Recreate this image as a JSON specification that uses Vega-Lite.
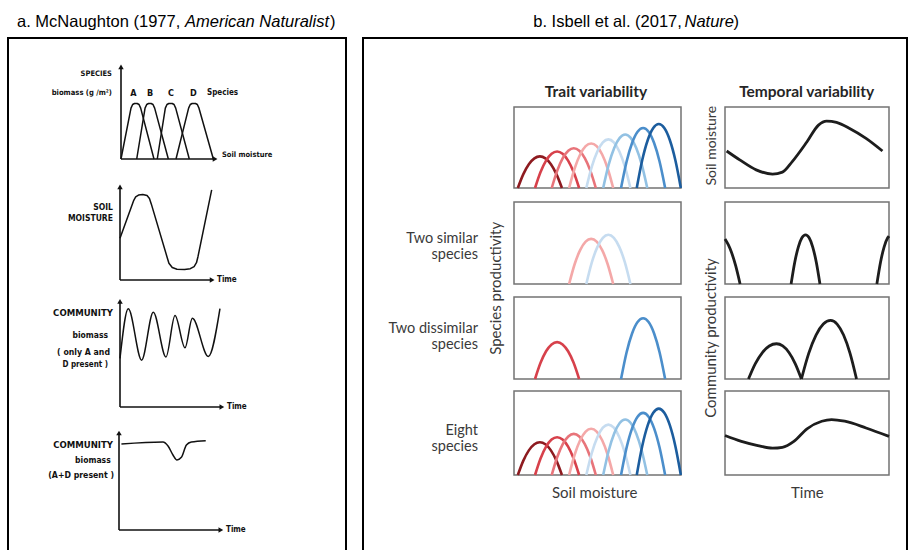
{
  "$schema": "https://vega.github.io/schema/vega-lite/v6.json",
  "width": 909,
  "height": 550,
  "padding": 0,
  "autosize": {"type": "none"},
  "background": "white",
  "config": {
    "view": {"stroke": null},
    "axis": {"disable": true},
    "legend": {"disable": true}
  },
  "datasets": {
    "niche": [
      {"sp": "s1", "moisture": 2.3, "productivity": 0}, {"sp": "s1", "moisture": 5.6, "productivity": 17.1}, {"sp": "s1", "moisture": 8.9, "productivity": 29.3}, {"sp": "s1", "moisture": 12.2, "productivity": 36.6}, {"sp": "s1", "moisture": 15.5, "productivity": 39}, {"sp": "s1", "moisture": 18.8, "productivity": 36.6}, {"sp": "s1", "moisture": 22.1, "productivity": 29.3}, {"sp": "s1", "moisture": 25.4, "productivity": 17.1}, {"sp": "s1", "moisture": 28.7, "productivity": 0},
      {"sp": "s2", "moisture": 12.6, "productivity": 0}, {"sp": "s2", "moisture": 15.9, "productivity": 19.7}, {"sp": "s2", "moisture": 19.2, "productivity": 33.8}, {"sp": "s2", "moisture": 22.5, "productivity": 42.2}, {"sp": "s2", "moisture": 25.8, "productivity": 45}, {"sp": "s2", "moisture": 29.1, "productivity": 42.2}, {"sp": "s2", "moisture": 32.4, "productivity": 33.8}, {"sp": "s2", "moisture": 35.7, "productivity": 19.7}, {"sp": "s2", "moisture": 39.0, "productivity": 0},
      {"sp": "s3", "moisture": 22.6, "productivity": 0}, {"sp": "s3", "moisture": 25.9, "productivity": 21.4}, {"sp": "s3", "moisture": 29.2, "productivity": 36.8}, {"sp": "s3", "moisture": 32.5, "productivity": 45.9}, {"sp": "s3", "moisture": 35.8, "productivity": 49}, {"sp": "s3", "moisture": 39.1, "productivity": 45.9}, {"sp": "s3", "moisture": 42.4, "productivity": 36.8}, {"sp": "s3", "moisture": 45.7, "productivity": 21.4}, {"sp": "s3", "moisture": 49.0, "productivity": 0},
      {"sp": "s4", "moisture": 33.0, "productivity": 0}, {"sp": "s4", "moisture": 36.3, "productivity": 24.1}, {"sp": "s4", "moisture": 39.6, "productivity": 41.3}, {"sp": "s4", "moisture": 42.9, "productivity": 51.6}, {"sp": "s4", "moisture": 46.2, "productivity": 55}, {"sp": "s4", "moisture": 49.5, "productivity": 51.6}, {"sp": "s4", "moisture": 52.8, "productivity": 41.3}, {"sp": "s4", "moisture": 56.1, "productivity": 24.1}, {"sp": "s4", "moisture": 59.4, "productivity": 0},
      {"sp": "s5", "moisture": 43.3, "productivity": 0}, {"sp": "s5", "moisture": 46.6, "productivity": 26.3}, {"sp": "s5", "moisture": 49.9, "productivity": 45}, {"sp": "s5", "moisture": 53.2, "productivity": 56.3}, {"sp": "s5", "moisture": 56.5, "productivity": 60}, {"sp": "s5", "moisture": 59.8, "productivity": 56.3}, {"sp": "s5", "moisture": 63.1, "productivity": 45}, {"sp": "s5", "moisture": 66.4, "productivity": 26.3}, {"sp": "s5", "moisture": 69.7, "productivity": 0},
      {"sp": "s6", "moisture": 53.4, "productivity": 0}, {"sp": "s6", "moisture": 56.7, "productivity": 28.9}, {"sp": "s6", "moisture": 60.0, "productivity": 49.5}, {"sp": "s6", "moisture": 63.3, "productivity": 61.9}, {"sp": "s6", "moisture": 66.6, "productivity": 66}, {"sp": "s6", "moisture": 69.9, "productivity": 61.9}, {"sp": "s6", "moisture": 73.2, "productivity": 49.5}, {"sp": "s6", "moisture": 76.5, "productivity": 28.9}, {"sp": "s6", "moisture": 79.8, "productivity": 0},
      {"sp": "s7", "moisture": 64.1, "productivity": 0}, {"sp": "s7", "moisture": 67.4, "productivity": 32.4}, {"sp": "s7", "moisture": 70.7, "productivity": 55.5}, {"sp": "s7", "moisture": 74.0, "productivity": 69.4}, {"sp": "s7", "moisture": 77.3, "productivity": 74}, {"sp": "s7", "moisture": 80.6, "productivity": 69.4}, {"sp": "s7", "moisture": 83.9, "productivity": 55.5}, {"sp": "s7", "moisture": 87.2, "productivity": 32.4}, {"sp": "s7", "moisture": 90.5, "productivity": 0},
      {"sp": "s8", "moisture": 73.5, "productivity": 0}, {"sp": "s8", "moisture": 76.8, "productivity": 34.6}, {"sp": "s8", "moisture": 80.1, "productivity": 59.3}, {"sp": "s8", "moisture": 83.4, "productivity": 74.1}, {"sp": "s8", "moisture": 86.7, "productivity": 79}, {"sp": "s8", "moisture": 90.0, "productivity": 74.1}, {"sp": "s8", "moisture": 93.3, "productivity": 59.3}, {"sp": "s8", "moisture": 96.6, "productivity": 34.6}, {"sp": "s8", "moisture": 99.9, "productivity": 0}
    ],
    "soilMoistureSeries": [
      {"time": 1, "moisture": 45.7}, {"time": 9, "moisture": 34.7}, {"time": 19, "moisture": 22.4}, {"time": 29, "moisture": 17.2}, {"time": 35, "moisture": 19.6}, {"time": 41, "moisture": 32.6}, {"time": 50, "moisture": 57.1}, {"time": 57, "moisture": 77.6}, {"time": 62, "moisture": 82.5}, {"time": 68, "moisture": 80.9}, {"time": 76, "moisture": 73.5}, {"time": 86, "moisture": 61.3}, {"time": 96, "moisture": 45.7}
    ],
    "communityTwoSimilar": [
      {"seg": "a", "time": 0, "productivity": 55}, {"seg": "a", "time": 2, "productivity": 48}, {"seg": "a", "time": 4, "productivity": 38.4}, {"seg": "a", "time": 6.5, "productivity": 22.3}, {"seg": "a", "time": 9.2, "productivity": 0},
      {"seg": "b", "time": 40.3, "productivity": 0}, {"seg": "b", "time": 42.5, "productivity": 26.3}, {"seg": "b", "time": 44.7, "productivity": 45}, {"seg": "b", "time": 46.9, "productivity": 56.3}, {"seg": "b", "time": 49.1, "productivity": 60}, {"seg": "b", "time": 51.3, "productivity": 56.3}, {"seg": "b", "time": 53.5, "productivity": 45}, {"seg": "b", "time": 55.7, "productivity": 26.3}, {"seg": "b", "time": 57.9, "productivity": 0},
      {"seg": "c", "time": 92.6, "productivity": 0}, {"seg": "c", "time": 94.8, "productivity": 26.3}, {"seg": "c", "time": 97, "productivity": 45}, {"seg": "c", "time": 99.2, "productivity": 56.3}, {"seg": "c", "time": 100, "productivity": 58.5}
    ],
    "communityTwoDissimilar": [
      {"seg": "a", "time": 14.3, "productivity": 0}, {"seg": "a", "time": 18.5, "productivity": 18.8}, {"seg": "a", "time": 22.8, "productivity": 32.3}, {"seg": "a", "time": 27, "productivity": 40.3}, {"seg": "a", "time": 31.4, "productivity": 43}, {"seg": "a", "time": 35.2, "productivity": 40.3}, {"seg": "a", "time": 39, "productivity": 32.3}, {"seg": "a", "time": 42.8, "productivity": 18.8}, {"seg": "a", "time": 46.6, "productivity": 0},
      {"seg": "b", "time": 46.6, "productivity": 0}, {"seg": "b", "time": 51.05, "productivity": 31.3}, {"seg": "b", "time": 55.5, "productivity": 53.6}, {"seg": "b", "time": 59.95, "productivity": 67}, {"seg": "b", "time": 64.4, "productivity": 71.5}, {"seg": "b", "time": 68.35, "productivity": 67}, {"seg": "b", "time": 72.3, "productivity": 53.6}, {"seg": "b", "time": 76.25, "productivity": 31.3}, {"seg": "b", "time": 80.2, "productivity": 0}
    ],
    "communityEight": [
      {"time": 0, "productivity": 47}, {"time": 10, "productivity": 40}, {"time": 20, "productivity": 35}, {"time": 29, "productivity": 32}, {"time": 35, "productivity": 33}, {"time": 42, "productivity": 40}, {"time": 50, "productivity": 55}, {"time": 59, "productivity": 64}, {"time": 65, "productivity": 66}, {"time": 73, "productivity": 64}, {"time": 86, "productivity": 56}, {"time": 100, "productivity": 46}
    ],
    "guildBiomass": [
      {"sp": "A", "moisture": 0, "biomass": 0}, {"sp": "A", "moisture": 10.3, "biomass": 53.5}, {"sp": "A", "moisture": 12, "biomass": 57.4}, {"sp": "A", "moisture": 13.9, "biomass": 58.4}, {"sp": "A", "moisture": 16.7, "biomass": 58.4}, {"sp": "A", "moisture": 18.6, "biomass": 57.4}, {"sp": "A", "moisture": 20.3, "biomass": 53.5}, {"sp": "A", "moisture": 34, "biomass": 0},
      {"sp": "B", "moisture": 16.2, "biomass": 0}, {"sp": "B", "moisture": 24.8, "biomass": 53.5}, {"sp": "B", "moisture": 26.5, "biomass": 57.4}, {"sp": "B", "moisture": 28.4, "biomass": 58.4}, {"sp": "B", "moisture": 31.1, "biomass": 58.4}, {"sp": "B", "moisture": 33, "biomass": 57.4}, {"sp": "B", "moisture": 34.7, "biomass": 53.5}, {"sp": "B", "moisture": 48.8, "biomass": 0},
      {"sp": "C", "moisture": 37.4, "biomass": 0}, {"sp": "C", "moisture": 45.7, "biomass": 53.5}, {"sp": "C", "moisture": 47.4, "biomass": 57.4}, {"sp": "C", "moisture": 49.3, "biomass": 58.4}, {"sp": "C", "moisture": 52.8, "biomass": 58.4}, {"sp": "C", "moisture": 54.7, "biomass": 57.4}, {"sp": "C", "moisture": 56.4, "biomass": 53.5}, {"sp": "C", "moisture": 70.4, "biomass": 0},
      {"sp": "D", "moisture": 56.7, "biomass": 0}, {"sp": "D", "moisture": 69.7, "biomass": 53.5}, {"sp": "D", "moisture": 71.4, "biomass": 57.4}, {"sp": "D", "moisture": 73.3, "biomass": 58.4}, {"sp": "D", "moisture": 76.8, "biomass": 58.4}, {"sp": "D", "moisture": 78.7, "biomass": 57.4}, {"sp": "D", "moisture": 80.4, "biomass": 53.5}, {"sp": "D", "moisture": 95.2, "biomass": 0}
    ],
    "guildOptimum": [
      {"sp": "A", "optimum": 12.7}, {"sp": "B", "optimum": 29.9}, {"sp": "C", "optimum": 51.5}, {"sp": "D", "optimum": 74.5}
    ],
    "moistureRecord": [
      {"time": 0, "moisture": 43.4}, {"time": 14.5, "moisture": 83}, {"time": 16.5, "moisture": 86.5}, {"time": 19.5, "moisture": 88.5}, {"time": 24, "moisture": 89}, {"time": 28.5, "moisture": 88}, {"time": 31, "moisture": 85}, {"time": 33, "moisture": 79}, {"time": 49.5, "moisture": 24}, {"time": 51.5, "moisture": 17.5}, {"time": 55, "moisture": 13}, {"time": 60, "moisture": 11.2}, {"time": 68, "moisture": 11}, {"time": 74, "moisture": 11.8}, {"time": 78, "moisture": 14}, {"time": 80.5, "moisture": 18}, {"time": 82, "moisture": 24}, {"time": 96.5, "moisture": 93.8}
    ],
    "communityAD": [
      {"time": 0, "biomass": 44.6}, {"time": 7.9, "biomass": 90.1}, {"time": 20.6, "biomass": 43.0}, {"time": 31.7, "biomass": 86.9}, {"time": 43.8, "biomass": 45.9}, {"time": 52.4, "biomass": 83.9}, {"time": 61.9, "biomass": 54.3}, {"time": 68.9, "biomass": 81.4}, {"time": 84.1, "biomass": 46.3}, {"time": 95.2, "biomass": 90.2}
    ],
    "communityAll": [
      {"time": 2.3, "biomass": 86}, {"time": 41.9, "biomass": 88}, {"time": 46.7, "biomass": 84}, {"time": 51.4, "biomass": 75}, {"time": 55.2, "biomass": 70}, {"time": 59.4, "biomass": 72.7}, {"time": 64.2, "biomass": 85}, {"time": 68.9, "biomass": 88}, {"time": 82.6, "biomass": 89.3}
    ]
  },
  "layer": [
    {
      "layer": [
        {"data": {"values": [{}]}, "mark": {"type": "rect", "filled": false, "stroke": "#000000", "strokeWidth": 2},
         "encoding": {"x": {"datum": 0, "scale": {"domain": [0, 100], "range": [8, 346]}}, "x2": {"datum": 100}, "y": {"datum": 0, "scale": {"domain": [0, 100], "range": [563, 38]}}, "y2": {"datum": 100}}},
        {"data": {"values": [{}]}, "mark": {"type": "text", "text": "a. McNaughton (1977,", "font": "Liberation Sans", "fontSize": 16.5, "align": "left", "baseline": "alphabetic", "color": "#000000"},
         "encoding": {"x": {"datum": 2.66, "scale": {"domain": [0, 100], "range": [8, 346]}}, "y": {"datum": 102.15, "scale": {"domain": [0, 100], "range": [563, 38]}}}},
        {"data": {"values": [{}]}, "mark": {"type": "text", "text": "American Naturalist", "font": "Liberation Sans", "fontStyle": "italic", "fontSize": 16.5, "align": "left", "baseline": "alphabetic", "color": "#000000"},
         "encoding": {"x": {"datum": 52.37, "scale": {"domain": [0, 100], "range": [8, 346]}}, "y": {"datum": 102.15, "scale": {"domain": [0, 100], "range": [563, 38]}}}},
        {"data": {"values": [{}]}, "mark": {"type": "text", "text": ")", "font": "Liberation Sans", "fontSize": 16.5, "align": "left", "baseline": "alphabetic", "color": "#000000"},
         "encoding": {"x": {"datum": 95.27, "scale": {"domain": [0, 100], "range": [8, 346]}}, "y": {"datum": 102.15, "scale": {"domain": [0, 100], "range": [563, 38]}}}}
      ]
    },
    {
      "layer": [
        {"data": {"values": [{}]}, "mark": {"type": "rule", "strokeWidth": 1.6, "color": "#111111"},
         "encoding": {"x": {"datum": 0, "scale": {"domain": [0, 100], "range": [121, 218]}}, "y": {"datum": 0, "scale": {"domain": [0, 100], "range": [159, 64]}}, "y2": {"datum": 97}}},
        {"data": {"values": [{}]}, "mark": {"type": "rule", "strokeWidth": 1.6, "color": "#111111"},
         "encoding": {"x": {"datum": 0, "scale": {"domain": [0, 100], "range": [121, 218]}}, "x2": {"datum": 97}, "y": {"datum": 0, "scale": {"domain": [0, 100], "range": [159, 64]}}}},
        {"data": {"values": [{}]}, "mark": {"type": "point", "shape": "triangle-up", "filled": true, "size": 30, "color": "#111111", "opacity": 1},
         "encoding": {"x": {"datum": 0, "scale": {"domain": [0, 100], "range": [121, 218]}}, "y": {"datum": 97, "scale": {"domain": [0, 100], "range": [159, 64]}}}},
        {"data": {"values": [{}]}, "mark": {"type": "point", "shape": "triangle-right", "filled": true, "size": 30, "color": "#111111", "opacity": 1},
         "encoding": {"x": {"datum": 97, "scale": {"domain": [0, 100], "range": [121, 218]}}, "y": {"datum": 0, "scale": {"domain": [0, 100], "range": [159, 64]}}}},
        {"data": {"name": "guildBiomass"}, "mark": {"type": "line", "strokeWidth": 1.5, "color": "#111111", "strokeJoin": "round"},
         "encoding": {"x": {"field": "moisture", "type": "quantitative", "scale": {"domain": [0, 100], "range": [121, 218]}}, "y": {"field": "biomass", "type": "quantitative", "scale": {"domain": [0, 100], "range": [159, 64]}}, "detail": {"field": "sp"}}},
        {"data": {"name": "guildOptimum"}, "mark": {"type": "text", "font": "Liberation Sans Narrow, DejaVu Sans Condensed, Arial Narrow, sans-serif", "fontWeight": "bold", "fontSize": 9, "color": "#111111", "baseline": "middle"},
         "encoding": {"x": {"field": "optimum", "type": "quantitative", "scale": {"domain": [0, 100], "range": [121, 218]}}, "y": {"datum": 69.5, "scale": {"domain": [0, 100], "range": [159, 64]}}, "text": {"field": "sp"}}},
        {"data": {"values": [{}]}, "mark": {"type": "text", "text": "Species", "font": "Liberation Sans Narrow, DejaVu Sans Condensed, Arial Narrow, sans-serif", "fontWeight": "bold", "fontSize": 8, "color": "#111111", "align": "left", "baseline": "middle"},
         "encoding": {"x": {"datum": 88.7, "scale": {"domain": [0, 100], "range": [121, 218]}}, "y": {"datum": 69.5, "scale": {"domain": [0, 100], "range": [159, 64]}}}},
        {"data": {"values": [{}]}, "mark": {"type": "text", "text": "SPECIES", "font": "Liberation Sans Narrow, DejaVu Sans Condensed, Arial Narrow, sans-serif", "fontWeight": "bold", "fontSize": 7.5, "color": "#111111", "align": "right", "baseline": "middle"},
         "encoding": {"x": {"datum": -9.3, "scale": {"domain": [0, 100], "range": [121, 218]}}, "y": {"datum": 89.5, "scale": {"domain": [0, 100], "range": [159, 64]}}}},
        {"data": {"values": [{}]}, "mark": {"type": "text", "text": "biomass (g /m²)", "font": "Liberation Sans Narrow, DejaVu Sans Condensed, Arial Narrow, sans-serif", "fontWeight": "bold", "fontSize": 7.6, "color": "#111111", "align": "right", "baseline": "middle"},
         "encoding": {"x": {"datum": -9.3, "scale": {"domain": [0, 100], "range": [121, 218]}}, "y": {"datum": 69.5, "scale": {"domain": [0, 100], "range": [159, 64]}}}},
        {"data": {"values": [{}]}, "mark": {"type": "text", "text": "Soil moisture", "font": "Liberation Sans Narrow, DejaVu Sans Condensed, Arial Narrow, sans-serif", "fontWeight": "bold", "fontSize": 7.5, "color": "#111111", "align": "left", "baseline": "middle"},
         "encoding": {"x": {"datum": 104.1, "scale": {"domain": [0, 100], "range": [121, 218]}}, "y": {"datum": 4.2, "scale": {"domain": [0, 100], "range": [159, 64]}}}}
      ]
    },
    {
      "layer": [
        {"data": {"values": [{}]}, "mark": {"type": "rule", "strokeWidth": 1.6, "color": "#111111"},
         "encoding": {"x": {"datum": 0, "scale": {"domain": [0, 100], "range": [120, 215]}}, "y": {"datum": 0, "scale": {"domain": [0, 100], "range": [280, 184]}}, "y2": {"datum": 97}}},
        {"data": {"values": [{}]}, "mark": {"type": "rule", "strokeWidth": 1.6, "color": "#111111"},
         "encoding": {"x": {"datum": 0, "scale": {"domain": [0, 100], "range": [120, 215]}}, "x2": {"datum": 97}, "y": {"datum": 0, "scale": {"domain": [0, 100], "range": [280, 184]}}}},
        {"data": {"values": [{}]}, "mark": {"type": "point", "shape": "triangle-up", "filled": true, "size": 30, "color": "#111111", "opacity": 1},
         "encoding": {"x": {"datum": 0, "scale": {"domain": [0, 100], "range": [120, 215]}}, "y": {"datum": 97, "scale": {"domain": [0, 100], "range": [280, 184]}}}},
        {"data": {"values": [{}]}, "mark": {"type": "point", "shape": "triangle-right", "filled": true, "size": 30, "color": "#111111", "opacity": 1},
         "encoding": {"x": {"datum": 97, "scale": {"domain": [0, 100], "range": [120, 215]}}, "y": {"datum": 0, "scale": {"domain": [0, 100], "range": [280, 184]}}}},
        {"data": {"name": "moistureRecord"}, "mark": {"type": "line", "strokeWidth": 1.5, "color": "#111111", "strokeJoin": "round"},
         "encoding": {"x": {"field": "time", "type": "quantitative", "scale": {"domain": [0, 100], "range": [120, 215]}}, "y": {"field": "moisture", "type": "quantitative", "scale": {"domain": [0, 100], "range": [280, 184]}}}},
        {"data": {"values": [{}]}, "mark": {"type": "text", "text": "SOIL", "font": "Liberation Sans Narrow, DejaVu Sans Condensed, Arial Narrow, sans-serif", "fontWeight": "bold", "fontSize": 8.5, "color": "#111111", "align": "right", "baseline": "middle"},
         "encoding": {"x": {"datum": -7.4, "scale": {"domain": [0, 100], "range": [120, 215]}}, "y": {"datum": 76.4, "scale": {"domain": [0, 100], "range": [280, 184]}}}},
        {"data": {"values": [{}]}, "mark": {"type": "text", "text": "MOISTURE", "font": "Liberation Sans Narrow, DejaVu Sans Condensed, Arial Narrow, sans-serif", "fontWeight": "bold", "fontSize": 8.5, "color": "#111111", "align": "right", "baseline": "middle"},
         "encoding": {"x": {"datum": -7.4, "scale": {"domain": [0, 100], "range": [120, 215]}}, "y": {"datum": 64.3, "scale": {"domain": [0, 100], "range": [280, 184]}}}},
        {"data": {"values": [{}]}, "mark": {"type": "text", "text": "Time", "font": "Liberation Sans Narrow, DejaVu Sans Condensed, Arial Narrow, sans-serif", "fontWeight": "bold", "fontSize": 8, "color": "#111111", "align": "left", "baseline": "middle"},
         "encoding": {"x": {"datum": 102.1, "scale": {"domain": [0, 100], "range": [120, 215]}}, "y": {"datum": 0, "scale": {"domain": [0, 100], "range": [280, 184]}}}}
      ]
    },
    {
      "layer": [
        {"data": {"values": [{}]}, "mark": {"type": "rule", "strokeWidth": 1.6, "color": "#111111"},
         "encoding": {"x": {"datum": 0, "scale": {"domain": [0, 100], "range": [120, 225]}}, "y": {"datum": 0, "scale": {"domain": [0, 100], "range": [407, 298]}}, "y2": {"datum": 97}}},
        {"data": {"values": [{}]}, "mark": {"type": "rule", "strokeWidth": 1.6, "color": "#111111"},
         "encoding": {"x": {"datum": 0, "scale": {"domain": [0, 100], "range": [120, 225]}}, "x2": {"datum": 97}, "y": {"datum": 0, "scale": {"domain": [0, 100], "range": [407, 298]}}}},
        {"data": {"values": [{}]}, "mark": {"type": "point", "shape": "triangle-up", "filled": true, "size": 30, "color": "#111111", "opacity": 1},
         "encoding": {"x": {"datum": 0, "scale": {"domain": [0, 100], "range": [120, 225]}}, "y": {"datum": 97, "scale": {"domain": [0, 100], "range": [407, 298]}}}},
        {"data": {"values": [{}]}, "mark": {"type": "point", "shape": "triangle-right", "filled": true, "size": 30, "color": "#111111", "opacity": 1},
         "encoding": {"x": {"datum": 97, "scale": {"domain": [0, 100], "range": [120, 225]}}, "y": {"datum": 0, "scale": {"domain": [0, 100], "range": [407, 298]}}}},
        {"data": {"name": "communityAD"}, "mark": {"type": "line", "interpolate": "monotone", "strokeWidth": 1.5, "color": "#111111"},
         "encoding": {"x": {"field": "time", "type": "quantitative", "scale": {"domain": [0, 100], "range": [120, 225]}}, "y": {"field": "biomass", "type": "quantitative", "scale": {"domain": [0, 100], "range": [407, 298]}}}},
        {"data": {"values": [{}]}, "mark": {"type": "text", "text": "COMMUNITY", "font": "Liberation Sans Narrow, DejaVu Sans Condensed, Arial Narrow, sans-serif", "fontWeight": "bold", "fontSize": 9.5, "color": "#111111", "align": "right", "baseline": "middle"},
         "encoding": {"x": {"datum": -6.7, "scale": {"domain": [0, 100], "range": [120, 225]}}, "y": {"datum": 86, "scale": {"domain": [0, 100], "range": [407, 298]}}}},
        {"data": {"values": [{}]}, "mark": {"type": "text", "text": "biomass", "font": "Liberation Sans Narrow, DejaVu Sans Condensed, Arial Narrow, sans-serif", "fontWeight": "bold", "fontSize": 8.5, "color": "#111111", "align": "right", "baseline": "middle"},
         "encoding": {"x": {"datum": -11.4, "scale": {"domain": [0, 100], "range": [120, 225]}}, "y": {"datum": 66, "scale": {"domain": [0, 100], "range": [407, 298]}}}},
        {"data": {"values": [{}]}, "mark": {"type": "text", "text": "( only A and", "font": "Liberation Sans Narrow, DejaVu Sans Condensed, Arial Narrow, sans-serif", "fontWeight": "bold", "fontSize": 8.7, "color": "#111111", "align": "right", "baseline": "middle"},
         "encoding": {"x": {"datum": -9.5, "scale": {"domain": [0, 100], "range": [120, 225]}}, "y": {"datum": 50.7, "scale": {"domain": [0, 100], "range": [407, 298]}}}},
        {"data": {"values": [{}]}, "mark": {"type": "text", "text": "D present )", "font": "Liberation Sans Narrow, DejaVu Sans Condensed, Arial Narrow, sans-serif", "fontWeight": "bold", "fontSize": 8, "color": "#111111", "align": "right", "baseline": "middle"},
         "encoding": {"x": {"datum": -11.4, "scale": {"domain": [0, 100], "range": [120, 225]}}, "y": {"datum": 38.5, "scale": {"domain": [0, 100], "range": [407, 298]}}}},
        {"data": {"values": [{}]}, "mark": {"type": "text", "text": "Time", "font": "Liberation Sans Narrow, DejaVu Sans Condensed, Arial Narrow, sans-serif", "fontWeight": "bold", "fontSize": 8, "color": "#111111", "align": "left", "baseline": "middle"},
         "encoding": {"x": {"datum": 101.9, "scale": {"domain": [0, 100], "range": [120, 225]}}, "y": {"datum": 0, "scale": {"domain": [0, 100], "range": [407, 298]}}}}
      ]
    },
    {
      "layer": [
        {"data": {"values": [{}]}, "mark": {"type": "rule", "strokeWidth": 1.6, "color": "#111111"},
         "encoding": {"x": {"datum": 0, "scale": {"domain": [0, 100], "range": [119, 224]}}, "y": {"datum": 0, "scale": {"domain": [0, 100], "range": [530, 430]}}, "y2": {"datum": 97}}},
        {"data": {"values": [{}]}, "mark": {"type": "rule", "strokeWidth": 1.6, "color": "#111111"},
         "encoding": {"x": {"datum": 0, "scale": {"domain": [0, 100], "range": [119, 224]}}, "x2": {"datum": 97}, "y": {"datum": 0, "scale": {"domain": [0, 100], "range": [530, 430]}}}},
        {"data": {"values": [{}]}, "mark": {"type": "point", "shape": "triangle-up", "filled": true, "size": 30, "color": "#111111", "opacity": 1},
         "encoding": {"x": {"datum": 0, "scale": {"domain": [0, 100], "range": [119, 224]}}, "y": {"datum": 97, "scale": {"domain": [0, 100], "range": [530, 430]}}}},
        {"data": {"values": [{}]}, "mark": {"type": "point", "shape": "triangle-right", "filled": true, "size": 30, "color": "#111111", "opacity": 1},
         "encoding": {"x": {"datum": 97, "scale": {"domain": [0, 100], "range": [119, 224]}}, "y": {"datum": 0, "scale": {"domain": [0, 100], "range": [530, 430]}}}},
        {"data": {"name": "communityAll"}, "mark": {"type": "line", "interpolate": "monotone", "strokeWidth": 1.5, "color": "#111111"},
         "encoding": {"x": {"field": "time", "type": "quantitative", "scale": {"domain": [0, 100], "range": [119, 224]}}, "y": {"field": "biomass", "type": "quantitative", "scale": {"domain": [0, 100], "range": [530, 430]}}}},
        {"data": {"values": [{}]}, "mark": {"type": "text", "text": "COMMUNITY", "font": "Liberation Sans Narrow, DejaVu Sans Condensed, Arial Narrow, sans-serif", "fontWeight": "bold", "fontSize": 9.5, "color": "#111111", "align": "right", "baseline": "middle"},
         "encoding": {"x": {"datum": -5.7, "scale": {"domain": [0, 100], "range": [119, 224]}}, "y": {"datum": 85, "scale": {"domain": [0, 100], "range": [530, 430]}}}},
        {"data": {"values": [{}]}, "mark": {"type": "text", "text": "biomass", "font": "Liberation Sans Narrow, DejaVu Sans Condensed, Arial Narrow, sans-serif", "fontWeight": "bold", "fontSize": 8.5, "color": "#111111", "align": "right", "baseline": "middle"},
         "encoding": {"x": {"datum": -7.9, "scale": {"domain": [0, 100], "range": [119, 224]}}, "y": {"datum": 70, "scale": {"domain": [0, 100], "range": [530, 430]}}}},
        {"data": {"values": [{}]}, "mark": {"type": "text", "text": "(A+D present )", "font": "Liberation Sans Narrow, DejaVu Sans Condensed, Arial Narrow, sans-serif", "fontWeight": "bold", "fontSize": 8.7, "color": "#111111", "align": "right", "baseline": "middle"},
         "encoding": {"x": {"datum": -4.8, "scale": {"domain": [0, 100], "range": [119, 224]}}, "y": {"datum": 55, "scale": {"domain": [0, 100], "range": [530, 430]}}}},
        {"data": {"values": [{}]}, "mark": {"type": "text", "text": "Time", "font": "Liberation Sans Narrow, DejaVu Sans Condensed, Arial Narrow, sans-serif", "fontWeight": "bold", "fontSize": 8, "color": "#111111", "align": "left", "baseline": "middle"},
         "encoding": {"x": {"datum": 101.9, "scale": {"domain": [0, 100], "range": [119, 224]}}, "y": {"datum": 0, "scale": {"domain": [0, 100], "range": [530, 430]}}}}
      ]
    },
    {
      "layer": [
        {"data": {"values": [{}]}, "mark": {"type": "rect", "filled": false, "stroke": "#000000", "strokeWidth": 2},
         "encoding": {"x": {"datum": 0, "scale": {"domain": [0, 100], "range": [363, 907]}}, "x2": {"datum": 100}, "y": {"datum": 0, "scale": {"domain": [0, 100], "range": [563, 38]}}, "y2": {"datum": 100}}},
        {"data": {"values": [{}]}, "mark": {"type": "text", "text": "b. Isbell et al. (2017,", "font": "Liberation Sans", "fontSize": 16.5, "align": "left", "baseline": "alphabetic", "color": "#000000"},
         "encoding": {"x": {"datum": 31.3, "scale": {"domain": [0, 100], "range": [363, 907]}}, "y": {"datum": 102.15, "scale": {"domain": [0, 100], "range": [563, 38]}}}},
        {"data": {"values": [{}]}, "mark": {"type": "text", "text": "Nature", "font": "Liberation Sans", "fontStyle": "italic", "fontSize": 16.5, "align": "left", "baseline": "alphabetic", "color": "#000000"},
         "encoding": {"x": {"datum": 59.1, "scale": {"domain": [0, 100], "range": [363, 907]}}, "y": {"datum": 102.15, "scale": {"domain": [0, 100], "range": [563, 38]}}}},
        {"data": {"values": [{}]}, "mark": {"type": "text", "text": ")", "font": "Liberation Sans", "fontSize": 16.5, "align": "left", "baseline": "alphabetic", "color": "#000000"},
         "encoding": {"x": {"datum": 68.1, "scale": {"domain": [0, 100], "range": [363, 907]}}, "y": {"datum": 102.15, "scale": {"domain": [0, 100], "range": [563, 38]}}}}
      ]
    },
    {
      "layer": [
        {"data": {"values": [{}]}, "mark": {"type": "rect", "filled": false, "stroke": "#737373", "strokeWidth": 1.5},
         "encoding": {"x": {"datum": 0, "scale": {"domain": [0, 100], "range": [514, 681]}}, "x2": {"datum": 100}, "y": {"datum": 0, "scale": {"domain": [0, 100], "range": [188, 107]}}, "y2": {"datum": 100}}},
        {"data": {"name": "niche"}, "mark": {"type": "line", "interpolate": "monotone", "strokeWidth": 2.6},
         "encoding": {"x": {"field": "moisture", "type": "quantitative", "scale": {"domain": [0, 100], "range": [514, 681]}}, "y": {"field": "productivity", "type": "quantitative", "scale": {"domain": [0, 100], "range": [188, 107]}}, "color": {"field": "sp", "type": "nominal", "scale": {"domain": ["s1", "s2", "s3", "s4", "s5", "s6", "s7", "s8"], "range": ["#8e1b20", "#d7414b", "#e8747a", "#f4a8a8", "#c6dcf0", "#92c1e3", "#4b8ecb", "#1c5d9e"]}}}},
        {"data": {"values": [{}]}, "mark": {"type": "text", "text": "Trait variability", "font": "Lato", "fontWeight": "bold", "fontSize": 15.5, "color": "#262626", "align": "center", "baseline": "alphabetic"},
         "encoding": {"x": {"datum": 49.1, "scale": {"domain": [0, 100], "range": [514, 681]}}, "y": {"datum": 112.7, "scale": {"domain": [0, 100], "range": [188, 107]}}}}
      ]
    },
    {
      "layer": [
        {"data": {"values": [{}]}, "mark": {"type": "rect", "filled": false, "stroke": "#737373", "strokeWidth": 1.5},
         "encoding": {"x": {"datum": 0, "scale": {"domain": [0, 100], "range": [725, 889]}}, "x2": {"datum": 100}, "y": {"datum": 0, "scale": {"domain": [0, 100], "range": [188, 107]}}, "y2": {"datum": 100}}},
        {"data": {"name": "soilMoistureSeries"}, "mark": {"type": "line", "interpolate": "monotone", "strokeWidth": 2.8, "color": "#1d1d1d"},
         "encoding": {"x": {"field": "time", "type": "quantitative", "scale": {"domain": [0, 100], "range": [725, 889]}}, "y": {"field": "moisture", "type": "quantitative", "scale": {"domain": [0, 100], "range": [188, 107]}}}},
        {"data": {"values": [{}]}, "mark": {"type": "text", "text": "Temporal variability", "font": "Lato", "fontWeight": "bold", "fontSize": 15.5, "color": "#262626", "align": "center", "baseline": "alphabetic"},
         "encoding": {"x": {"datum": 49.8, "scale": {"domain": [0, 100], "range": [725, 889]}}, "y": {"datum": 112.7, "scale": {"domain": [0, 100], "range": [188, 107]}}}},
        {"data": {"values": [{}]}, "mark": {"type": "text", "text": "Soil moisture", "font": "Lato", "fontSize": 14, "color": "#3a3a3a", "align": "center", "baseline": "alphabetic", "angle": 270},
         "encoding": {"x": {"datum": -5.5, "scale": {"domain": [0, 100], "range": [725, 889]}}, "y": {"datum": 52.1, "scale": {"domain": [0, 100], "range": [188, 107]}}}}
      ]
    },
    {
      "layer": [
        {"data": {"values": [{}]}, "mark": {"type": "rect", "filled": false, "stroke": "#737373", "strokeWidth": 1.5},
         "encoding": {"x": {"datum": 0, "scale": {"domain": [0, 100], "range": [514, 681]}}, "x2": {"datum": 100}, "y": {"datum": 0, "scale": {"domain": [0, 100], "range": [284, 202]}}, "y2": {"datum": 100}}},
        {"data": {"name": "niche"}, "transform": [{"filter": {"field": "sp", "oneOf": ["s4", "s5"]}}], "mark": {"type": "line", "interpolate": "monotone", "strokeWidth": 2.6},
         "encoding": {"x": {"field": "moisture", "type": "quantitative", "scale": {"domain": [0, 100], "range": [514, 681]}}, "y": {"field": "productivity", "type": "quantitative", "scale": {"domain": [0, 100], "range": [284, 202]}}, "color": {"field": "sp", "type": "nominal", "scale": {"domain": ["s1", "s2", "s3", "s4", "s5", "s6", "s7", "s8"], "range": ["#8e1b20", "#d7414b", "#e8747a", "#f4a8a8", "#c6dcf0", "#92c1e3", "#4b8ecb", "#1c5d9e"]}}}},
        {"data": {"values": [{}]}, "mark": {"type": "text", "text": "Two similar", "font": "Lato", "fontSize": 14.5, "color": "#3a3a3a", "align": "right", "baseline": "alphabetic"},
         "encoding": {"x": {"datum": -21.6, "scale": {"domain": [0, 100], "range": [514, 681]}}, "y": {"datum": 49.6, "scale": {"domain": [0, 100], "range": [284, 202]}}}},
        {"data": {"values": [{}]}, "mark": {"type": "text", "text": "species", "font": "Lato", "fontSize": 14.5, "color": "#3a3a3a", "align": "right", "baseline": "alphabetic"},
         "encoding": {"x": {"datum": -21.6, "scale": {"domain": [0, 100], "range": [514, 681]}}, "y": {"datum": 30.1, "scale": {"domain": [0, 100], "range": [284, 202]}}}},
        {"data": {"values": [{}]}, "mark": {"type": "text", "text": "Species productivity", "font": "Lato", "fontSize": 15, "color": "#3a3a3a", "align": "center", "baseline": "alphabetic", "angle": 270},
         "encoding": {"x": {"datum": -7.5, "scale": {"domain": [0, 100], "range": [514, 681]}}, "y": {"datum": -5.2, "scale": {"domain": [0, 100], "range": [284, 202]}}}}
      ]
    },
    {
      "layer": [
        {"data": {"values": [{}]}, "mark": {"type": "rect", "filled": false, "stroke": "#737373", "strokeWidth": 1.5},
         "encoding": {"x": {"datum": 0, "scale": {"domain": [0, 100], "range": [725, 889]}}, "x2": {"datum": 100}, "y": {"datum": 0, "scale": {"domain": [0, 100], "range": [284, 202]}}, "y2": {"datum": 100}}},
        {"data": {"name": "communityTwoSimilar"}, "mark": {"type": "line", "interpolate": "monotone", "strokeWidth": 2.8, "color": "#1d1d1d"},
         "encoding": {"x": {"field": "time", "type": "quantitative", "scale": {"domain": [0, 100], "range": [725, 889]}}, "y": {"field": "productivity", "type": "quantitative", "scale": {"domain": [0, 100], "range": [284, 202]}}, "detail": {"field": "seg"}}}
      ]
    },
    {
      "layer": [
        {"data": {"values": [{}]}, "mark": {"type": "rect", "filled": false, "stroke": "#737373", "strokeWidth": 1.5},
         "encoding": {"x": {"datum": 0, "scale": {"domain": [0, 100], "range": [514, 681]}}, "x2": {"datum": 100}, "y": {"datum": 0, "scale": {"domain": [0, 100], "range": [379, 297]}}, "y2": {"datum": 100}}},
        {"data": {"name": "niche"}, "transform": [{"filter": {"field": "sp", "oneOf": ["s2", "s7"]}}], "mark": {"type": "line", "interpolate": "monotone", "strokeWidth": 2.6},
         "encoding": {"x": {"field": "moisture", "type": "quantitative", "scale": {"domain": [0, 100], "range": [514, 681]}}, "y": {"field": "productivity", "type": "quantitative", "scale": {"domain": [0, 100], "range": [379, 297]}}, "color": {"field": "sp", "type": "nominal", "scale": {"domain": ["s1", "s2", "s3", "s4", "s5", "s6", "s7", "s8"], "range": ["#8e1b20", "#d7414b", "#e8747a", "#f4a8a8", "#c6dcf0", "#92c1e3", "#4b8ecb", "#1c5d9e"]}}}},
        {"data": {"values": [{}]}, "mark": {"type": "text", "text": "Two dissimilar", "font": "Lato", "fontSize": 14.5, "color": "#3a3a3a", "align": "right", "baseline": "alphabetic"},
         "encoding": {"x": {"datum": -21.6, "scale": {"domain": [0, 100], "range": [514, 681]}}, "y": {"datum": 55.7, "scale": {"domain": [0, 100], "range": [379, 297]}}}},
        {"data": {"values": [{}]}, "mark": {"type": "text", "text": "species", "font": "Lato", "fontSize": 14.5, "color": "#3a3a3a", "align": "right", "baseline": "alphabetic"},
         "encoding": {"x": {"datum": -21.6, "scale": {"domain": [0, 100], "range": [514, 681]}}, "y": {"datum": 36.2, "scale": {"domain": [0, 100], "range": [379, 297]}}}}
      ]
    },
    {
      "layer": [
        {"data": {"values": [{}]}, "mark": {"type": "rect", "filled": false, "stroke": "#737373", "strokeWidth": 1.5},
         "encoding": {"x": {"datum": 0, "scale": {"domain": [0, 100], "range": [725, 889]}}, "x2": {"datum": 100}, "y": {"datum": 0, "scale": {"domain": [0, 100], "range": [379, 297]}}, "y2": {"datum": 100}}},
        {"data": {"name": "communityTwoDissimilar"}, "mark": {"type": "line", "interpolate": "monotone", "strokeWidth": 2.8, "color": "#1d1d1d"},
         "encoding": {"x": {"field": "time", "type": "quantitative", "scale": {"domain": [0, 100], "range": [725, 889]}}, "y": {"field": "productivity", "type": "quantitative", "scale": {"domain": [0, 100], "range": [379, 297]}}, "detail": {"field": "seg"}}},
        {"data": {"values": [{}]}, "mark": {"type": "text", "text": "Community productivity", "font": "Lato", "fontSize": 15, "color": "#3a3a3a", "align": "center", "baseline": "alphabetic", "angle": 270},
         "encoding": {"x": {"datum": -5.5, "scale": {"domain": [0, 100], "range": [725, 889]}}, "y": {"datum": 50, "scale": {"domain": [0, 100], "range": [379, 297]}}}}
      ]
    },
    {
      "layer": [
        {"data": {"values": [{}]}, "mark": {"type": "rect", "filled": false, "stroke": "#737373", "strokeWidth": 1.5},
         "encoding": {"x": {"datum": 0, "scale": {"domain": [0, 100], "range": [514, 681]}}, "x2": {"datum": 100}, "y": {"datum": 0, "scale": {"domain": [0, 100], "range": [475, 391]}}, "y2": {"datum": 100}}},
        {"data": {"name": "niche"}, "mark": {"type": "line", "interpolate": "monotone", "strokeWidth": 2.6},
         "encoding": {"x": {"field": "moisture", "type": "quantitative", "scale": {"domain": [0, 100], "range": [514, 681]}}, "y": {"field": "productivity", "type": "quantitative", "scale": {"domain": [0, 100], "range": [475, 391]}}, "color": {"field": "sp", "type": "nominal", "scale": {"domain": ["s1", "s2", "s3", "s4", "s5", "s6", "s7", "s8"], "range": ["#8e1b20", "#d7414b", "#e8747a", "#f4a8a8", "#c6dcf0", "#92c1e3", "#4b8ecb", "#1c5d9e"]}}}},
        {"data": {"values": [{}]}, "mark": {"type": "text", "text": "Eight", "font": "Lato", "fontSize": 14.5, "color": "#3a3a3a", "align": "right", "baseline": "alphabetic"},
         "encoding": {"x": {"datum": -21.6, "scale": {"domain": [0, 100], "range": [514, 681]}}, "y": {"datum": 47.1, "scale": {"domain": [0, 100], "range": [475, 391]}}}},
        {"data": {"values": [{}]}, "mark": {"type": "text", "text": "species", "font": "Lato", "fontSize": 14.5, "color": "#3a3a3a", "align": "right", "baseline": "alphabetic"},
         "encoding": {"x": {"datum": -21.6, "scale": {"domain": [0, 100], "range": [514, 681]}}, "y": {"datum": 28.1, "scale": {"domain": [0, 100], "range": [475, 391]}}}},
        {"data": {"values": [{}]}, "mark": {"type": "text", "text": "Soil moisture", "font": "Lato", "fontSize": 15, "color": "#3a3a3a", "align": "center", "baseline": "alphabetic"},
         "encoding": {"x": {"datum": 48.3, "scale": {"domain": [0, 100], "range": [514, 681]}}, "y": {"datum": -26.9, "scale": {"domain": [0, 100], "range": [475, 391]}}}}
      ]
    },
    {
      "layer": [
        {"data": {"values": [{}]}, "mark": {"type": "rect", "filled": false, "stroke": "#737373", "strokeWidth": 1.5},
         "encoding": {"x": {"datum": 0, "scale": {"domain": [0, 100], "range": [725, 889]}}, "x2": {"datum": 100}, "y": {"datum": 0, "scale": {"domain": [0, 100], "range": [475, 391]}}, "y2": {"datum": 100}}},
        {"data": {"name": "communityEight"}, "mark": {"type": "line", "interpolate": "monotone", "strokeWidth": 2.8, "color": "#1d1d1d"},
         "encoding": {"x": {"field": "time", "type": "quantitative", "scale": {"domain": [0, 100], "range": [725, 889]}}, "y": {"field": "productivity", "type": "quantitative", "scale": {"domain": [0, 100], "range": [475, 391]}}}},
        {"data": {"values": [{}]}, "mark": {"type": "text", "text": "Time", "font": "Lato", "fontSize": 15, "color": "#3a3a3a", "align": "center", "baseline": "alphabetic"},
         "encoding": {"x": {"datum": 50.2, "scale": {"domain": [0, 100], "range": [725, 889]}}, "y": {"datum": -26.9, "scale": {"domain": [0, 100], "range": [475, 391]}}}}
      ]
    }
  ],
  "resolve": {"scale": {"x": "independent", "y": "independent"}}
}
